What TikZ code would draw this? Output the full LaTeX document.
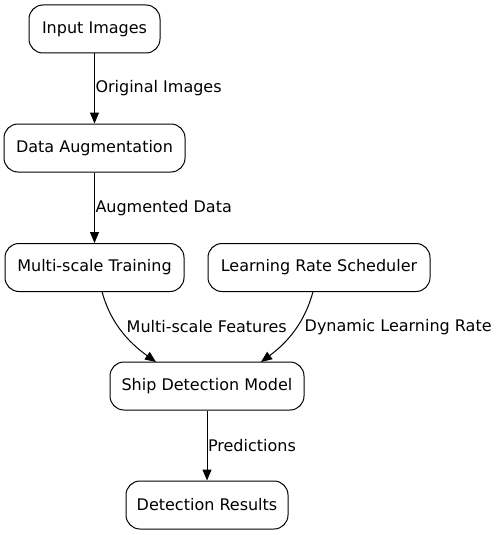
\documentclass[tikz,border=0pt]{standalone}
\usepackage{fontspec}
\setmainfont{DejaVu Sans}
\usetikzlibrary{arrows.meta}
\begin{document}
\begin{tikzpicture}[x=1pt,y=-1pt,
  box/.style={draw,line width=1pt,rounded corners=14pt,minimum height=48pt,inner sep=0pt,font=\fontsize{16pt}{19pt}\selectfont},
  edge/.style={line width=1pt,-{Triangle[length=11pt,width=9pt]}},
  elabel/.style={font=\fontsize{16pt}{19pt}\selectfont,inner sep=0pt}]
\useasboundingbox (0,0) rectangle (500,535);
\node[box,minimum width=131pt] (in) at (94.5,29) {Input Images};
\node[box,minimum width=181pt] (aug) at (94.5,148) {Data Augmentation};
\node[box,minimum width=179pt] (mst) at (94.5,267.5) {Multi-scale Training};
\node[box,minimum width=222pt] (lrs) at (319,267.5) {Learning Rate Scheduler};
\node[box,minimum width=194pt] (sdm) at (207,386) {Ship Detection Model};
\node[box,minimum width=162pt] (res) at (207,505) {Detection Results};
\draw[edge] (in) -- (aug) node[elabel,pos=0.5,anchor=west,xshift=0.5pt] (l1) {Original Images};
\draw[edge] (aug) -- (mst) node[elabel,pos=0.5,anchor=west,xshift=0.5pt] (l2) {Augmented Data};
\coordinate (m1) at (102,291.5);
\coordinate (m2) at (156,362);
\draw[edge] (m1) .. controls (110,322) and (128,342) .. (m2);
\coordinate (r1) at (313,291.5);
\coordinate (r2) at (261,362);
\draw[edge] (r1) .. controls (305,322) and (288,342) .. (r2);
\node[elabel,anchor=west] (l3) at (126.5,327) {Multi-scale Features};
\node[elabel,anchor=west] (l4) at (304.5,327) {Dynamic Learning Rate};
\draw[edge] (sdm) -- (res) node[elabel,pos=0.5,anchor=west,xshift=0.5pt] (l5) {Predictions};
\end{tikzpicture}
\end{document}
